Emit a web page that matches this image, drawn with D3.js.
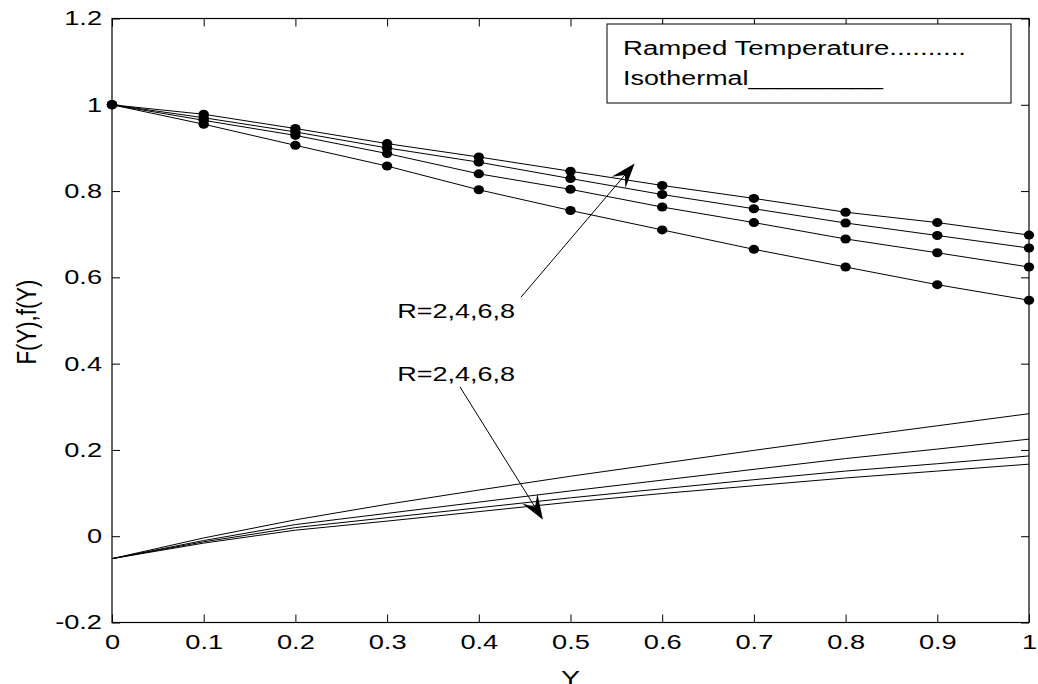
<!DOCTYPE html>
<meta charset="utf-8">
<script src="https://d3js.org/d3.v7.min.js"></script>
<style>
  body { margin: 0; background: #fff; }
  text { font-family: "Liberation Sans", Arial, sans-serif; font-size: 20px; fill: #000; }
</style>
<svg width="1038" height="684"></svg>
<script>
// Y positions along the channel
var yPos = [0, 0.1, 0.2, 0.3, 0.4, 0.5, 0.6, 0.7, 0.8, 0.9, 1];

// ramped temperature, R = 2,4,6,8 (drawn with markers)
var rampedR2 = [1, 0.955, 0.906, 0.858, 0.803, 0.755, 0.710, 0.665, 0.624, 0.583, 0.547];
var rampedR4 = [1, 0.964, 0.929, 0.887, 0.840, 0.804, 0.763, 0.727, 0.689, 0.657, 0.624];
var rampedR6 = [1, 0.970, 0.937, 0.900, 0.867, 0.829, 0.792, 0.759, 0.726, 0.697, 0.668];
var rampedR8 = [1, 0.978, 0.945, 0.910, 0.879, 0.846, 0.813, 0.783, 0.751, 0.727, 0.698];

// isothermal, R = 2,4,6,8 (plain lines)
var isoR2 = [-0.052, -0.004, 0.038, 0.074, 0.107, 0.139, 0.169, 0.199, 0.228, 0.256, 0.284];
var isoR4 = [-0.052, -0.010, 0.027, 0.053, 0.079, 0.105, 0.130, 0.155, 0.180, 0.202, 0.225];
var isoR6 = [-0.052, -0.013, 0.020, 0.043, 0.066, 0.089, 0.110, 0.131, 0.151, 0.168, 0.186];
var isoR8 = [-0.052, -0.016, 0.014, 0.035, 0.057, 0.079, 0.099, 0.117, 0.135, 0.151, 0.167];

var xTicks = [0, 0.1, 0.2, 0.3, 0.4, 0.5, 0.6, 0.7, 0.8, 0.9, 1];
var yTicks = [-0.2, 0, 0.2, 0.4, 0.6, 0.8, 1, 1.2];

var legendLines = ["Ramped Temperature..........", "Isothermal_________"];

var svg = d3.select("svg");
var plotL = 112, plotR = 1029, plotT = 18.5, plotB = 622.5;
var K = 1.36; // the original figure is stretched sideways

var x = d3.scaleLinear().domain([0, 1]).range([plotL, plotR]);
var y = d3.scaleLinear().domain([-0.2, 1.2]).range([plotB, plotT]);

function stretch(sel, k) {
  sel.each(function () {
    var w = this.getComputedTextLength();
    d3.select(this).attr("textLength", w * k).attr("lengthAdjust", "spacingAndGlyphs");
  });
}
var fmt = function (d) { return String(+d.toFixed(1)); };

// curves
var line = d3.line().x(function (d, i) { return x(yPos[i]); }).y(function (d) { return y(d); });

[isoR2, isoR4, isoR6, isoR8].forEach(function (s) {
  svg.append("path").attr("d", line(s)).attr("fill", "none").attr("stroke", "#000").attr("stroke-width", 1);
});
[rampedR2, rampedR4, rampedR6, rampedR8].forEach(function (s) {
  svg.append("path").attr("d", line(s)).attr("fill", "none").attr("stroke", "#000").attr("stroke-width", 1);
  svg.append("g").selectAll("ellipse").data(s).enter().append("ellipse")
    .attr("cx", function (d, i) { return x(yPos[i]); })
    .attr("cy", function (d) { return y(d); })
    .attr("rx", 5.2).attr("ry", 4.5).attr("fill", "#000");
});

// axes, ticks inward on all four sides
var gx = svg.append("g").attr("transform", "translate(0," + plotB + ")")
  .call(d3.axisBottom(x).tickValues(xTicks).tickFormat(fmt).tickSizeInner(-8).tickSizeOuter(0).tickPadding(12));
var gy = svg.append("g").attr("transform", "translate(" + plotL + ",0)")
  .call(d3.axisLeft(y).tickValues(yTicks).tickFormat(fmt).tickSizeInner(-8).tickSizeOuter(0).tickPadding(10));
svg.append("g").attr("transform", "translate(0," + plotT + ")")
  .call(d3.axisTop(x).tickValues(xTicks).tickFormat("").tickSizeInner(-8).tickSizeOuter(0));
svg.append("g").attr("transform", "translate(" + plotR + ",0)")
  .call(d3.axisRight(y).tickValues(yTicks).tickFormat("").tickSizeInner(-8).tickSizeOuter(0));
svg.selectAll(".domain").remove();
svg.selectAll(".tick line").attr("stroke", "#000");
svg.selectAll(".tick text").attr("font-size", 20).attr("font-family", null);
stretch(gx.selectAll(".tick text"), K);
stretch(gy.selectAll(".tick text"), K);

svg.append("rect").attr("x", plotL).attr("y", plotT).attr("width", plotR - plotL).attr("height", plotB - plotT)
  .attr("fill", "none").attr("stroke", "#000").attr("stroke-width", 1.2);

// legend box
var lg = svg.append("g");
lg.append("rect").attr("x", 607).attr("y", 24).attr("width", 404).attr("height", 79)
  .attr("fill", "#fff").attr("stroke", "#000").attr("stroke-width", 1);
lg.append("text").attr("x", 623).attr("y", 55).text(legendLines[0]).attr("textLength", 343).attr("lengthAdjust", "spacingAndGlyphs");
lg.append("text").attr("x", 623).attr("y", 85).text(legendLines[1]).attr("textLength", 260).attr("lengthAdjust", "spacingAndGlyphs");

// annotations (data coordinates)
function arrow(x0, y0, x1, y1) {
  var ax = x(x0), ay = y(y0), bx = x(x1), by = y(y1);
  var dx = bx - ax, dy = by - ay, len = Math.sqrt(dx * dx + dy * dy);
  var ux = dx / len, uy = dy / len, nx = -uy, ny = ux, L = 25, W = 9;
  svg.append("line").attr("x1", ax).attr("y1", ay).attr("x2", bx - ux * 10).attr("y2", by - uy * 10)
    .attr("stroke", "#000").attr("stroke-width", 1);
  var pts = [[bx, by], [bx - ux * L + nx * W, by - uy * L + ny * W], [bx - ux * L * 0.6, by - uy * L * 0.6],
             [bx - ux * L - nx * W, by - uy * L - ny * W]];
  svg.append("path").attr("d", "M" + pts.join("L") + "Z").attr("fill", "#000");
}
arrow(0.446, 0.554, 0.570, 0.864);
arrow(0.3795, 0.346, 0.470, 0.038);

svg.append("text").attr("x", x(0.311)).attr("y", y(0.506)).text("R=2,4,6,8")
  .attr("textLength", 118).attr("lengthAdjust", "spacingAndGlyphs");
svg.append("text").attr("x", x(0.311)).attr("y", y(0.36)).text("R=2,4,6,8")
  .attr("textLength", 118).attr("lengthAdjust", "spacingAndGlyphs");

// axis titles
svg.append("text").attr("x", x(0.5)).attr("y", 685).attr("text-anchor", "middle").text("Y")
  .attr("textLength", 19).attr("lengthAdjust", "spacingAndGlyphs");
svg.append("text").attr("transform", "translate(26,322) scale(" + K + ",1) rotate(-90)")
  .attr("text-anchor", "middle").attr("dy", "0.35em").text("F(Y),f(Y)")
  .attr("textLength", 85).attr("lengthAdjust", "spacingAndGlyphs");
</script>
